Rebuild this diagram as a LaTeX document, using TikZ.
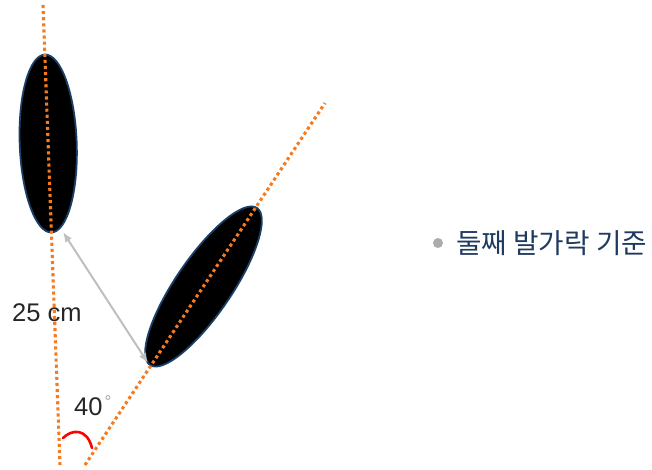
\documentclass[tikz,border=0pt]{standalone}
\usepackage{fontspec}
\setmainfont{Liberation Sans}
\newfontfamily\kofont{Noto Sans CJK KR}
\usetikzlibrary{shapes.geometric,arrows.meta}
\definecolor{dotorange}{HTML}{F47B20}
\definecolor{rimblue}{HTML}{1B3F66}
\definecolor{arrowgray}{HTML}{BFBFBF}
\definecolor{labelnavy}{HTML}{1F3A5F}
\tikzset{
  foot/.style={ellipse, fill=black, draw=rimblue, line width=1.8pt, inner sep=0pt},
  axisline/.style={dotorange, line width=3.1pt, dash pattern=on 3.1pt off 3pt},
  dimarrow/.style={arrowgray, line width=2pt, {Latex[length=10pt,width=8pt]}-{Latex[length=10pt,width=8pt]}},
  anglearc/.style={red, line width=2.6pt, line cap=round},
  lbl/.style={font=\fontsize{25.5}{28}\selectfont, text=black!85, inner sep=0pt}
}
\begin{document}
\begin{tikzpicture}[x=1pt,y=-1pt]
\useasboundingbox (0,0) rectangle (652,469);
% feet
\node[foot, minimum width=178pt, minimum height=57pt, rotate=92.1] (e1) at (48.2,143.5) {};
\node[foot, minimum width=190pt, minimum height=56pt, rotate=55.7] (e2) at (203.5,286.5) {};
% axis lines
\coordinate (l1a) at (43,5);
\coordinate (l1b) at (60,465);
\coordinate (l2a) at (85,465);
\coordinate (l2b) at (325,103);
\draw[axisline] (l1a) -- (l1b);
\draw[axisline] (l2a) -- (l2b);
% distance arrow
\coordinate (d1) at (63,232);
\coordinate (d2) at (148,363);
\draw[dimarrow] (d1) -- (d2);
% angle arc
\coordinate (a1) at (63,438);
\coordinate (a2) at (92,448);
\draw[anglearc] (a1) .. controls (72,429) and (87,428) .. (a2);
% labels
\node[lbl, anchor=west] (t25) at (12,313) {25 cm};
\node[lbl, anchor=west] (t40) at (74,407) {40};
\node[text=gray!75, inner sep=0pt, font=\fontsize{17}{18}\selectfont] (deg) at (108,402) {°};
% legend
\node[circle, fill=arrowgray!90!black, minimum size=10pt, inner sep=0pt] (bul) at (438,243) {};
\node[anchor=west, inner sep=0pt, text=labelnavy, font=\kofont\fontsize{27.7}{30}\selectfont] (leg) at (456,243) {둘째 발가락 기준};
\end{tikzpicture}
\end{document}
